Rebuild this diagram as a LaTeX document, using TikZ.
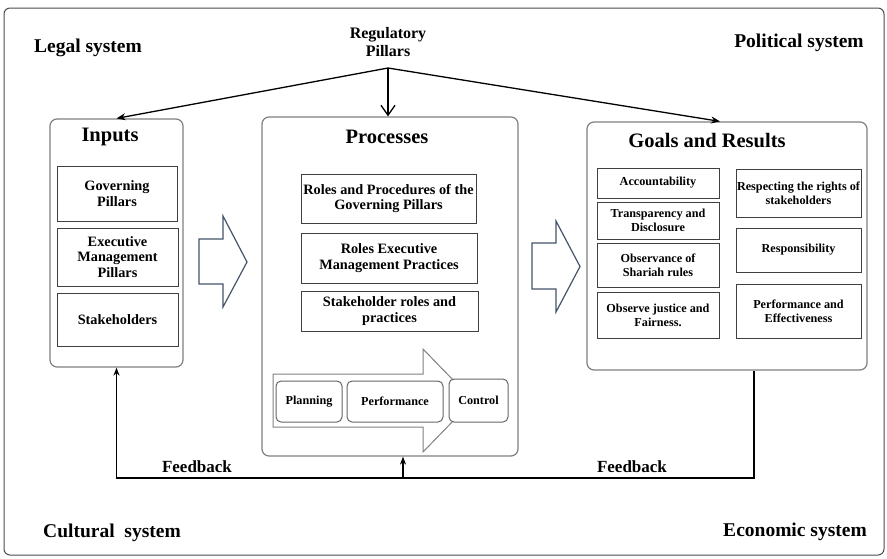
\documentclass[tikz,border=0pt]{standalone}
\usepackage{fontspec}
\setmainfont{Liberation Serif}
\usetikzlibrary{positioning,arrows.meta,calc}
\definecolor{slate}{HTML}{44546A}
\newcommand{\txtsize}[2]{\fontsize{#1}{#2}\selectfont}

\begin{document}
\begin{tikzpicture}[
    x=1pt, y=-1pt,
    frame/.style={draw=black!70, line width=1pt, rounded corners=6pt},
    panel/.style={draw=black!50, line width=1.2pt, rounded corners=7pt, fill=white},
    title/.style={font=\bfseries\txtsize{20.5}{22}},
    system/.style={font=\bfseries\txtsize{19.5}{21}},
    item/.style={draw=black!75, line width=1pt, align=center, inner sep=1pt, font=\bfseries\txtsize{14.3}{15.5}},
    goal/.style={item, inner sep=0.5pt, font=\bfseries\txtsize{12.2}{14}},
    phase/.style={draw=black!60, line width=1pt, rounded corners=5pt, fill=white, minimum height=41, inner sep=1pt, font=\bfseries\txtsize{12.2}{14}},
    blockarrow/.style={draw=slate, line width=1.2pt, fill=white, line join=miter},
    regline/.style={-{Stealth[length=9pt,width=7pt]}, line width=1.3pt},
    fbline/.style={line width=1.8pt}
]
\useasboundingbox (0,0) rectangle (887,558);
\draw[frame] (4,8) rectangle (884,555);

% surrounding systems
\node[system] (legal) at (88,48) {Legal system};
\node[system] (political) at (799,43) {Political system};
\node[system] (cultural) at (112,533) {Cultural\ \ system};
\node[system] (economic) at (795,532) {Economic system};

% regulatory pillars
\node[align=center, font=\bfseries\txtsize{16}{18}] (reg) at (388,42) {Regulatory\\Pillars};
\coordinate (split) at (388,68);

% three panels
\node[panel, minimum width=133, minimum height=248] (inputs) at (116.5,243) {};
\node[panel, minimum width=256, minimum height=339] (proc) at (390,286.5) {};
\node[panel, minimum width=280, minimum height=248] (goals) at (727,246) {};

\node[title] (inputsT) at (110,137) {Inputs};
\node[title] (procT) at (387,137) {Processes};
\node[title] (goalsT) at (707,141) {Goals and Results};

\draw[regline] (split) -- (inputs.north);
\draw[-{Straight Barb[length=10pt,width=14pt]}, line width=1.3pt] (split) -- (split |- proc.north);
\draw[regline] (split) -- ([xshift=-7pt]goals.north);

% inputs
\node[item, minimum width=120, minimum height=55] (gov) at (117,193.5) {Governing\\Pillars};
\node[item, minimum width=121, minimum height=58] (exec) at (117.5,257) {Executive\\Management\\Pillars};
\node[item, minimum width=121, minimum height=53] (stake) at (117.5,319.5) {Stakeholders};

% processes
\node[item, minimum width=175, minimum height=49] (rp1) at (388.5,198.5) {Roles and Procedures of the\\Governing Pillars};
\node[item, minimum width=176, minimum height=50] (rp2) at (389,258) {Roles Executive\\Management Practices};
\node[item, minimum width=177, minimum height=40] (rp3) at (389.5,311) {Stakeholder roles and\\practices};

\draw[draw=black!50, line width=1pt, fill=white, line join=miter]
    (273,374) -- (423,374) -- (423,349) -- (473,400.5) -- (423,452) -- (423,427) -- (273,427) -- cycle;
\node[phase, minimum width=66] (plan) at (309,401.5) {Planning};
\node[phase, minimum width=96] (perf) at (395,401.5) {Performance};
\node[phase, minimum width=59, minimum height=43] (ctrl) at (478.5,400.5) {Control};

% goals and results
\node[goal, minimum width=122, minimum height=30] (acc) at (658,183) {Accountability};
\node[goal, minimum width=122, minimum height=37] (trans) at (658,220.5) {Transparency and\\Disclosure};
\node[goal, minimum width=122, minimum height=44] (shariah) at (658,265) {Observance of\\Shariah rules};
\node[goal, minimum width=122, minimum height=46] (justice) at (658,315) {Observe justice and\\Fairness.};
\node[goal, minimum width=125, minimum height=48] (rights) at (798.5,193) {Respecting the rights of\\stakeholders};
\node[goal, minimum width=125, minimum height=44] (respons) at (798.5,250) {Responsibility};
\node[goal, minimum width=125, minimum height=54] (effect) at (798.5,311) {Performance and\\Effectiveness};

% block arrows between panels
\draw[blockarrow] (199,239) -- (223,239) -- (223,216) -- (247,262) -- (223,307) -- (223,284) -- (199,284) -- cycle;
\draw[blockarrow] (532,243) -- (556,243) -- (556,221) -- (580,266.5) -- (556,312) -- (556,289) -- (532,289) -- cycle;

% feedback loop
\coordinate (fbl) at (116.5,478);
\coordinate (fbr) at (754,478);
\coordinate (fbm) at (403,478);
\draw[fbline, -{Stealth[length=8pt,width=6pt]}] (fbr |- goals.south) -- (fbr) -- (fbl) -- (inputs.south);
\draw[fbline, -{Stealth[length=8pt,width=6pt]}] (fbm) -- (fbm |- proc.south);
\node[font=\bfseries\txtsize{17}{19}] (fbA) at (197,467) {Feedback};
\node[font=\bfseries\txtsize{17}{19}] (fbB) at (632,467) {Feedback};
\end{tikzpicture}
\end{document}
